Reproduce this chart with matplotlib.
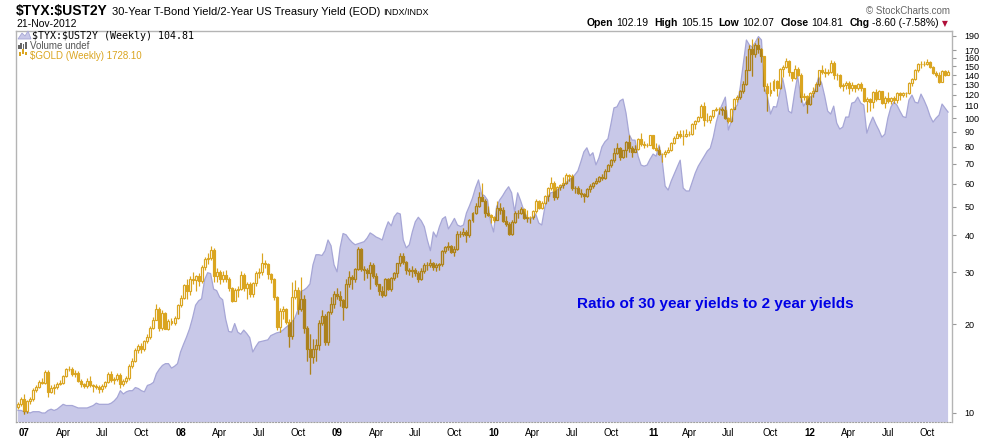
import numpy as np
import matplotlib
matplotlib.use("Agg")
import matplotlib.pyplot as plt
from matplotlib.patches import Polygon, Rectangle
from matplotlib.ticker import NullLocator

plt.rcParams["font.family"] = ["Liberation Sans", "DejaVu Sans"]

W, H = 990, 438

# weekly bars: first = week ending 22-Dec-2006, last = 21-Nov-2012
ratio = [
    10.2, 10.2, 10.1, 10.1, 10.0, 10.1, 10.1, 10.1, 10.0, 10.0,
    10.2, 10.3, 10.2, 10.3, 10.5, 10.7, 10.6, 10.6, 10.6, 10.5,
    10.4, 10.4, 10.4, 10.4, 10.5, 10.6, 10.8, 10.7, 10.7, 10.7,
    10.7, 10.8, 11.0, 11.3, 11.9, 11.6, 11.8, 11.9, 11.9, 12.2,
    12.1, 11.9, 11.8, 12.4, 12.5, 12.7, 13.6, 14.1, 14.5, 14.7,
    14.7, 14.2, 14.4, 14.7, 16.1, 17.1, 18.1, 19.3, 21.0, 23.2,
    24.0, 24.4, 28.3, 29.9, 29.7, 26.3, 26.0, 24.7, 24.2, 20.8,
    18.9, 18.8, 20.1, 18.8, 18.5, 19.1, 18.6, 18.0, 16.1, 16.8, 17.4,
    17.5, 17.6, 17.7, 18.3, 18.5, 18.7, 18.8, 19.1, 19.5, 19.9,
    20.4, 21.0, 22.4, 25.9, 26.1, 26.6, 27.4, 31.8, 34.4, 34.4,
    34.2, 35.5, 38.6, 36.9, 31.8, 30.1, 36.3, 40.6, 40.2, 38.9,
    37.9, 37.2, 37.5, 37.8, 38.1, 39.2, 40.8, 40.2, 39.5, 39.1,
    38.6, 41.8, 44.5, 43.1, 46.3, 47.7, 47.3, 38.6, 36.3, 37.2,
    41.1, 44.5, 46.1, 44.8, 42.8, 38.6, 35.5, 41.1, 39.5, 42.8,
    45.5, 46.3, 42.1, 43.8, 45.7, 43.4, 42.9, 43.4, 47.7, 50.4,
    53.6, 58.0, 61.7, 55.3, 54.5, 52.7, 44.5, 41.1, 50.0, 52.7,
    54.5, 56.7, 58.5, 55.8, 48.1, 55.8, 52.4, 48.8, 46.3, 45.5,
    45.9, 47.3, 44.1, 43.4, 49.6, 54.1, 55.8, 56.2, 57.0, 58.0,
    59.4, 60.3, 61.7, 62.7, 64.2, 66.2, 71.1, 76.8, 79.3, 74.5,
    76.3, 69.4, 73.3, 79.9, 83.1, 85.1, 95.6, 108.3, 109.2, 114.4,
    116.0, 104.0, 88.2, 84.2, 84.2, 74.3, 69.3, 68.7, 69.3, 72.6,
    75.5, 74.3, 81.0, 72.0, 58.8, 57.0, 61.1, 64.6, 68.2, 72.0,
    57.9, 56.6, 56.6, 60.7, 65.1, 68.7, 71.5, 74.3, 77.3, 79.1, 86.2,
    96.9, 105.6, 111.6, 117.8, 91.1, 97.7, 108.1, 110.7, 128.4, 153.7,
    184.0, 176.9, 174.1, 181.1, 189.0, 184.0, 126.4, 117.8, 103.2, 109.4,
    109.0, 120.6, 136.7, 122.5, 105.6, 104.0, 121.6, 138.8, 119.7, 109.8,
    114.2, 117.8, 118.8, 126.4, 137.8, 131.4, 118.8, 105.6, 103.2, 109.8,
    96.2, 91.8, 93.2, 100.8, 100.8, 112.4, 113.3, 117.8, 112.4, 110.7,
    88.9, 95.4, 100.8, 95.4, 91.1, 86.2, 88.2, 100.0, 109.0, 113.3,
    110.7, 105.6, 101.2, 100.4, 115.1, 119.7, 113.3, 112.4, 120.6, 115.1,
    109.0, 101.6, 96.9, 100.0, 102.4, 111.6, 108.1, 104.81,
]

gold_open0 = 615
gold_close = [
    621, 632,
    608, 627, 631, 648, 655, 666, 664, 686, 645, 653, 654, 662, 663, 677, 692, 693, 682, 684,
    668, 660, 656, 668, 658, 656, 655, 650, 656, 666, 681, 669, 672, 679, 660, 668, 673, 698,
    710, 734, 743, 737, 754, 765, 786, 806, 833, 785, 822, 784, 803, 797, 811, 842,
    862, 897, 881, 912, 910, 923, 908, 949, 972, 973, 1000, 921, 932, 914, 924, 914, 887, 854,
    884, 885, 925, 887, 898, 871, 903, 929, 933, 960, 957, 928, 913, 864, 787, 827, 833, 800,
    766, 864, 884, 833, 860, 786, 736, 718, 736, 745, 798, 815, 752, 825, 845, 872,
    867, 855, 838, 900, 919, 913, 941, 1002, 942, 940, 930, 953, 923, 898, 880, 869, 913, 886,
    915, 929, 958, 979, 962, 938, 935, 940, 930, 912, 937, 953, 954, 958, 948, 953, 955, 995,
    1007, 1010, 991, 1003, 1049, 1050, 1057, 1045, 1095, 1118, 1145, 1175, 1163, 1119, 1111, 1105,
    1096, 1138, 1130, 1092, 1083, 1050, 1090, 1118, 1118, 1133, 1102, 1105, 1105, 1125, 1161,
    1137, 1155, 1180, 1209, 1229, 1177, 1213, 1218, 1228, 1257, 1256, 1209, 1210, 1190, 1188,
    1181, 1204, 1216, 1227, 1236, 1250, 1246, 1275, 1297, 1318, 1345, 1368, 1328, 1357, 1394,
    1367, 1352, 1363, 1406, 1385, 1379, 1380, 1421,
    1369, 1360, 1343, 1340, 1349, 1360, 1388, 1410, 1429, 1420, 1419, 1428, 1429, 1474, 1486,
    1504, 1556, 1491, 1492, 1509, 1536, 1542, 1541, 1539, 1500, 1486, 1543, 1592, 1601, 1628,
    1663, 1740, 1852, 1828, 1877, 1856, 1813, 1657, 1620, 1635, 1682, 1642, 1744, 1755, 1788,
    1725, 1696, 1746, 1712, 1598, 1606, 1566,
    1617, 1631, 1664, 1738, 1725, 1723, 1725, 1776, 1711, 1711, 1656, 1662, 1668, 1642, 1658,
    1643, 1663, 1643, 1579, 1592, 1573, 1622, 1590, 1628, 1572, 1597, 1580, 1593, 1583, 1620,
    1608, 1620, 1617, 1670, 1691, 1740, 1770, 1773, 1772, 1780, 1756, 1724, 1711, 1676, 1731,
    1714, 1728.1,
]
gold_high = [
    626, 636,
    640, 630, 635, 652, 658, 670, 673, 690, 691, 658, 661, 666, 670, 680, 695, 698, 696, 690,
    688, 672, 664, 673, 678, 662, 660, 658, 660, 668, 685, 687, 676, 683, 684, 671, 677, 702,
    715, 738, 748, 750, 758, 770, 790, 812, 845, 838, 830, 826, 808, 810, 815, 845,
    869, 900, 914, 922, 933, 925, 930, 953, 978, 990, 1011, 1004, 945, 940, 935, 940, 918, 890,
    888, 895, 935, 930, 905, 905, 905, 935, 945, 988, 968, 960, 930, 915, 868, 835, 840, 835,
    808, 905, 910, 890, 920, 870, 790, 770, 760, 760, 805, 830, 820, 828, 865, 880,
    888, 880, 860, 912, 935, 925, 945, 1007, 1004, 950, 945, 962, 960, 930, 900, 895, 915, 915,
    920, 932, 960, 988, 990, 965, 945, 950, 945, 935, 945, 960, 962, 970, 963, 960, 958, 1000,
    1010, 1025, 1015, 1012, 1058, 1060, 1070, 1062, 1100, 1122, 1153, 1195, 1227, 1170, 1142, 1115,
    1110, 1162, 1155, 1140, 1110, 1090, 1095, 1125, 1128, 1140, 1137, 1130, 1110, 1130, 1168,
    1165, 1160, 1182, 1212, 1249, 1235, 1215, 1225, 1250, 1265, 1262, 1262, 1215, 1215, 1205,
    1190, 1210, 1222, 1232, 1245, 1255, 1260, 1280, 1300, 1321, 1365, 1388, 1372, 1360, 1398,
    1424, 1375, 1380, 1410, 1432, 1395, 1390, 1424,
    1423, 1389, 1375, 1346, 1358, 1370, 1392, 1420, 1440, 1445, 1445, 1448, 1440, 1477, 1490,
    1508, 1566, 1577, 1522, 1515, 1538, 1550, 1550, 1550, 1555, 1506, 1547, 1594, 1610, 1632,
    1682, 1815, 1877, 1912, 1890, 1921, 1860, 1815, 1670, 1675, 1690, 1685, 1750, 1765, 1803,
    1790, 1730, 1763, 1755, 1720, 1620, 1610,
    1625, 1650, 1675, 1740, 1764, 1749, 1745, 1790, 1785, 1722, 1715, 1668, 1678, 1678, 1675,
    1660, 1670, 1676, 1645, 1598, 1595, 1627, 1640, 1632, 1628, 1605, 1625, 1600, 1605, 1625,
    1625, 1625, 1626, 1675, 1698, 1742, 1778, 1788, 1785, 1796, 1786, 1762, 1733, 1725, 1740,
    1737, 1738,
]
gold_low = [
    612, 618,
    603, 605, 622, 628, 645, 652, 660, 662, 636, 642, 641, 650, 658, 660, 675, 688, 678, 676,
    665, 655, 652, 653, 655, 645, 650, 642, 645, 652, 664, 665, 660, 668, 652, 656, 664, 670,
    695, 708, 728, 728, 732, 750, 760, 782, 804, 778, 780, 782, 780, 792, 793, 808,
    838, 858, 860, 870, 900, 880, 895, 903, 940, 955, 968, 906, 905, 900, 905, 905, 880, 850,
    853, 864, 882, 880, 860, 865, 863, 895, 915, 925, 946, 912, 903, 857, 780, 775, 808, 795,
    740, 760, 860, 820, 828, 773, 710, 681, 705, 710, 735, 792, 745, 746, 820, 835,
    860, 840, 805, 835, 890, 885, 905, 938, 936, 910, 915, 885, 915, 893, 870, 865, 867, 882,
    880, 910, 920, 950, 955, 928, 925, 918, 922, 905, 910, 930, 940, 948, 940, 935, 940, 950,
    990, 1000, 988, 980, 1000, 1040, 1044, 1023, 1040, 1090, 1114, 1140, 1160, 1107, 1108, 1085,
    1088, 1094, 1115, 1088, 1075, 1045, 1045, 1085, 1102, 1115, 1097, 1090, 1085, 1100, 1120,
    1132, 1132, 1150, 1160, 1200, 1165, 1170, 1200, 1210, 1225, 1235, 1200, 1190, 1185, 1177,
    1157, 1175, 1195, 1210, 1225, 1232, 1240, 1242, 1272, 1290, 1310, 1340, 1318, 1325, 1328,
    1350, 1330, 1350, 1358, 1375, 1365, 1372, 1378,
    1363, 1355, 1337, 1309, 1330, 1345, 1355, 1385, 1408, 1410, 1380, 1415, 1418, 1425, 1450,
    1480, 1500, 1462, 1480, 1478, 1500, 1530, 1520, 1515, 1495, 1478, 1482, 1540, 1577, 1588,
    1620, 1660, 1738, 1705, 1810, 1830, 1780, 1630, 1532, 1605, 1630, 1603, 1640, 1700, 1750,
    1708, 1680, 1690, 1705, 1575, 1585, 1523,
    1560, 1600, 1630, 1655, 1715, 1700, 1710, 1720, 1690, 1685, 1645, 1627, 1640, 1612, 1627,
    1625, 1635, 1630, 1575, 1527, 1532, 1548, 1580, 1590, 1565, 1545, 1570, 1565, 1570, 1572,
    1585, 1602, 1600, 1612, 1655, 1685, 1730, 1750, 1760, 1765, 1750, 1718, 1700, 1672, 1674,
    1707, 1710,
]

# first bar of Jan / Apr / Jul / Oct
quarter_weeks = [2, 15, 28, 41, 54, 67, 80, 93, 106, 119, 132, 145,
                 158, 171, 184, 197, 211, 223, 236, 250, 263, 276, 289, 302]
quarter_labels = ["07", "Apr", "Jul", "Oct", "08", "Apr", "Jul", "Oct",
                  "09", "Apr", "Jul", "Oct", "10", "Apr", "Jul", "Oct",
                  "11", "Apr", "Jul", "Oct", "12", "Apr", "Jul", "Oct"]
ratio_ticks = [10, 20, 30, 40, 50, 60, 70, 80, 90, 100, 110, 120, 130, 140, 150, 160, 170, 190]
ohlc_header = [("Open", "102.19"), ("High", "105.15"), ("Low", "102.07"),
               ("Close", "104.81"), ("Chg", "-8.60 (-7.58%)")]

assert len(ratio) == len(gold_close) == len(gold_high) == len(gold_low) == 310

AREA = "#c8c8e8"
AREA_EDGE = "#a6a6d6"
GOLD = "#daa520"
GOLD_IN = "#ab811d"   # gold seen through the lavender area

weeks = np.arange(len(ratio))
close = np.array(gold_close, float)
opn = np.r_[gold_open0, close[:-1]]
top = np.maximum(opn, close)
bot = np.minimum(opn, close)
up = close >= opn
high = np.maximum(gold_high, top)
low = np.minimum(gold_low, bot)

fig = plt.figure(figsize=(W / 100, H / 100), dpi=100)
ax = fig.add_axes([16 / W, 16 / H, 936 / W, 391 / H])
axg = ax.twinx()

area = ax.fill_between(weeks, ratio, 1, color=AREA, lw=0, zorder=1)
ax.plot(weeks, ratio, color=AREA_EDGE, lw=0.9, zorder=2)
ax.set_yscale("log")
ax.set_ylim(9.32, 197.4)
ax.set_xlim(-0.66, 310.3)
area_path = area.get_paths()[0]


def candles(color, clip=False):
    face = ["none" if u else color for u in up]
    bars = axg.bar(weeks, top - bot, bottom=bot, width=0.66, color=face,
                   edgecolor=color, linewidth=0.85)
    w1 = axg.vlines(weeks, top, high, colors=color, lw=0.85)
    w2 = axg.vlines(weeks, low, bot, colors=color, lw=0.85)
    if clip:
        for p in bars:
            p.set_clip_path(area_path, ax.transData)
        w1.set_clip_path(area_path, ax.transData)
        w2.set_clip_path(area_path, ax.transData)


candles(GOLD)
candles(GOLD_IN, clip=True)
axg.set_yscale("log")
axg.set_ylim(588, 1960)
axg.set_yticks([])
axg.yaxis.set_minor_locator(NullLocator())
axg.tick_params(right=False, labelright=False)
for s in axg.spines.values():
    s.set_visible(False)

# right-hand ratio scale
ax.yaxis.tick_right()
ax.set_yticks(ratio_ticks)
ax.set_yticklabels([str(t) for t in ratio_ticks])
ax.yaxis.set_minor_locator(NullLocator())
ax.tick_params(axis="y", direction="out", length=3, width=0.8, color="#999999",
               pad=6, labelsize=6.5)
ax.set_xticks(quarter_weeks)
ax.set_xticklabels(quarter_labels)
ax.tick_params(axis="x", length=0, pad=4, labelsize=7)
for lab in ax.get_xticklabels():
    if lab.get_text()[0].isdigit():
        lab.set_fontweight("bold")
for side in ("left", "right", "top"):
    ax.spines[side].set_color("#b4b4b4")
    ax.spines[side].set_linewidth(1)
ax.spines["bottom"].set_color("#a0a0a0")
ax.spines["bottom"].set_linestyle(":")


def put(x, y, s, **kw):
    kw.setdefault("va", "baseline")
    return fig.text(x / W, 1 - y / H, s, parse_math=False, **kw)


renderer = fig.canvas.get_renderer()


def width(t):
    return t.get_window_extent(renderer).width


# title line
t = put(16, 15, "$TYX:$UST2Y", fontsize=10, fontweight="bold")
x = 16 + width(t) + 4
t = put(x, 15, "30-Year T-Bond Yield/2-Year US Treasury Yield (EOD)", fontsize=8)
x += width(t) + 3
put(x, 15, "INDX/INDX", fontsize=6.5)
put(16, 27, "21-Nov-2012", fontsize=7.5)

# legend
put(32, 39, "$TYX:$UST2Y (Weekly) 104.81", fontsize=7.2, family="DejaVu Sans Mono")
put(30, 49, "Volume undef", fontsize=7, color="#555555")
put(30, 59, "$GOLD (Weekly) 1728.10", fontsize=7, color=GOLD)
fig.add_artist(Polygon([(18 / W, 1 - 39 / H), (22 / W, 1 - 33 / H), (25 / W, 1 - 36 / H),
                        (28 / W, 1 - 31 / H), (31 / W, 1 - 39 / H)],
                       closed=True, facecolor=AREA, edgecolor=AREA_EDGE, lw=0.6))
for i, hgt in enumerate([4, 6, 5, 7]):
    fig.add_artist(Rectangle(((18 + 2.4 * i) / W, 1 - 49 / H), 1.6 / W, hgt / H,
                             facecolor="#666666", lw=0))
for i, (b, hgt) in enumerate([(56, 4), (54, 5), (55, 3)]):
    fig.add_artist(Rectangle(((19 + 3 * i) / W, 1 - b / H), 1.6 / W, hgt / H,
                             facecolor=GOLD, lw=0))

# top right
put(950, 14, "\u00a9 StockCharts.com", fontsize=7, color="#666666", ha="right")
t = put(948, 26, "\u25bc", fontsize=5.5, color="#b0103a", ha="right", family="DejaVu Sans")
x = 948 - width(t) - 3
for label, value in reversed(ohlc_header):
    t = put(x, 26, value, fontsize=7.5, ha="right")
    x -= width(t) + 3
    t = put(x, 26, label, fontsize=7.5, fontweight="bold", ha="right")
    x -= width(t) + 6

put(577, 308, "Ratio of 30 year yields to 2 year yields", fontsize=11,
    fontweight="bold", color="#0000e6")

fig.savefig("out.png", dpi=100)
